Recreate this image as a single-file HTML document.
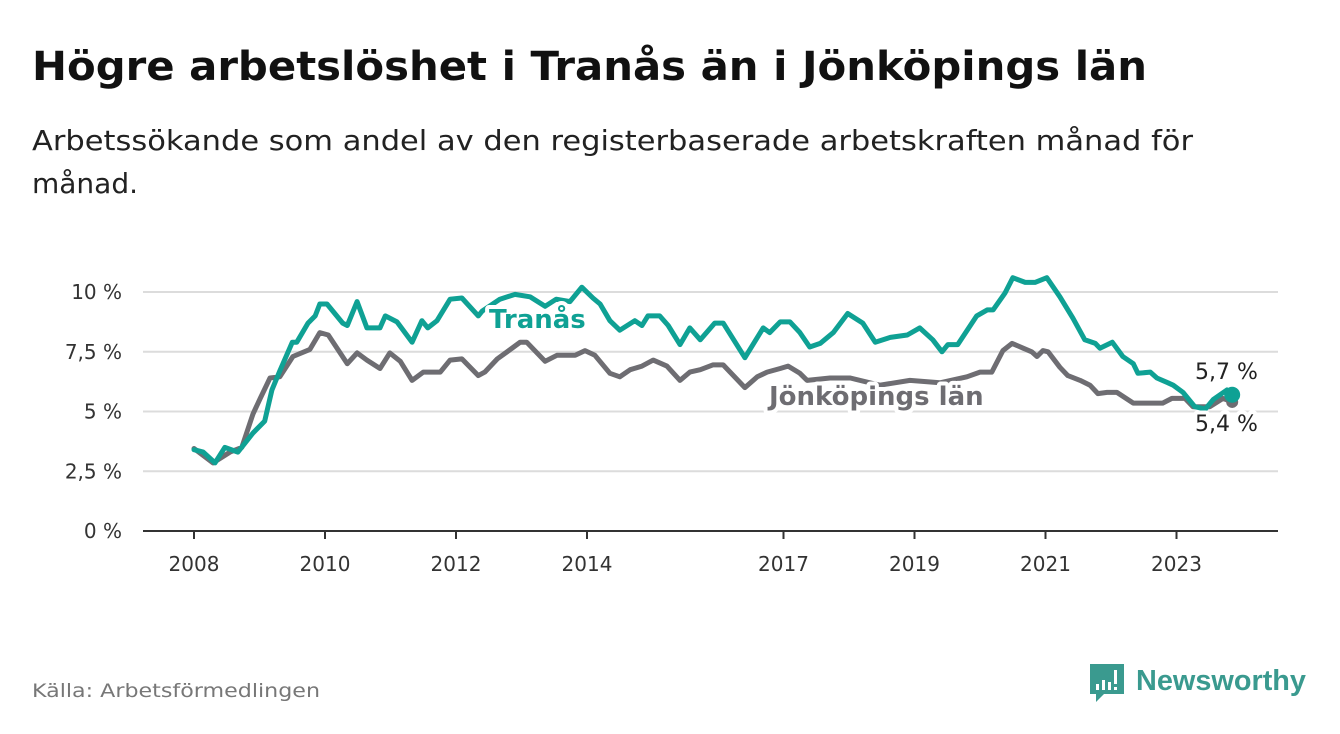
<!DOCTYPE html>
<html><head><meta charset="utf-8">
<style>
body{margin:0;background:#fff;width:1340px;height:734px;overflow:hidden;font-family:"DejaVu Sans","Liberation Sans",sans-serif}
svg{position:absolute;left:0;top:0}
</style></head>
<body>
<svg width="1340" height="734" viewBox="0 0 1340 734">
<text x="32" y="80" font-size="40" font-weight="bold" fill="#111" textLength="1115" lengthAdjust="spacingAndGlyphs">Högre arbetslöshet i Tranås än i Jönköpings län</text>
<text x="32" y="150" font-size="28" fill="#222" textLength="1161" lengthAdjust="spacingAndGlyphs">Arbetssökande som andel av den registerbaserade arbetskraften månad för</text>
<text x="32" y="193" font-size="28" fill="#222">månad.</text>
<g id="grid"></g>
<g id="lines"></g>
<g id="xaxis"></g>
<g id="labels"></g>
<text x="32" y="697" font-size="19" fill="#777" textLength="288" lengthAdjust="spacingAndGlyphs">Källa: Arbetsförmedlingen</text>
<g>
<path d="M1090 664 h34 v30 h-20 l-8 8 v-8 h-6 z" fill="#3a9a8f"/>
<rect x="1096" y="684" width="3" height="6" fill="#fff"/><rect x="1102" y="680" width="3" height="10" fill="#fff"/><rect x="1108" y="682" width="3" height="8" fill="#fff"/><rect x="1114" y="670" width="3" height="14" fill="#fff"/><rect x="1114" y="687" width="3" height="3" fill="#fff"/>
<text x="1136" y="690" font-size="29" font-family="Liberation Sans, sans-serif" font-weight="bold" fill="#3a9a8f" textLength="170" lengthAdjust="spacingAndGlyphs">Newsworthy</text>
</g>
</svg>
<script>
const yTicks=[0,2.5,5,7.5,10];
const yTickLabels=["0 %","2,5 %","5 %","7,5 %","10 %"];
const xTicks=[2008,2010,2012,2014,2017,2019,2021,2023];
const tranasT=[0,0.14,0.32,0.47,0.67,0.90,1.08,1.19,1.31,1.50,1.57,1.74,1.85,1.92,2.03,2.27,2.34,2.49,2.64,2.84,2.92,3.10,3.33,3.48,3.57,3.71,3.91,4.09,4.34,4.40,4.67,4.90,5.13,5.36,5.53,5.74,5.92,6.09,6.20,6.35,6.50,6.73,6.84,6.93,7.11,7.24,7.42,7.57,7.73,7.95,8.08,8.41,8.69,8.79,8.95,9.10,9.25,9.40,9.56,9.76,9.98,10.21,10.40,10.63,10.89,11.08,11.28,11.42,11.51,11.66,11.95,12.11,12.20,12.38,12.50,12.69,12.84,13.02,13.22,13.42,13.60,13.76,13.83,14.02,14.18,14.34,14.41,14.60,14.70,14.87,14.95,15.10,15.28,15.44,15.56,15.77,15.85];
const tranasV=[3.4,3.3,2.85,3.5,3.3,4.1,4.6,5.9,6.7,7.9,7.9,8.7,9.0,9.5,9.5,8.7,8.6,9.6,8.5,8.5,9.0,8.75,7.9,8.8,8.5,8.8,9.7,9.75,9.0,9.2,9.7,9.9,9.8,9.4,9.7,9.6,10.2,9.75,9.5,8.8,8.4,8.8,8.6,9.0,9.0,8.6,7.8,8.5,8.0,8.7,8.7,7.25,8.5,8.3,8.75,8.75,8.3,7.7,7.85,8.3,9.1,8.7,7.9,8.1,8.2,8.5,8.0,7.5,7.8,7.8,9.0,9.25,9.25,9.95,10.6,10.4,10.4,10.6,9.8,8.9,8.0,7.85,7.65,7.9,7.3,7.0,6.6,6.65,6.4,6.2,6.1,5.8,5.2,5.1,5.5,5.9,5.7];
const jkpT=[0,0.29,0.55,0.73,0.90,1.01,1.16,1.31,1.51,1.77,1.92,2.05,2.34,2.49,2.64,2.84,2.99,3.15,3.33,3.50,3.76,3.91,4.09,4.34,4.44,4.63,4.78,4.98,5.08,5.36,5.54,5.82,5.97,6.12,6.35,6.50,6.66,6.84,7.01,7.22,7.42,7.57,7.73,7.92,8.08,8.41,8.60,8.75,8.95,9.07,9.25,9.36,9.71,10.02,10.47,10.93,11.39,11.80,12.00,12.18,12.35,12.49,12.66,12.79,12.87,12.96,13.04,13.22,13.34,13.53,13.68,13.80,13.94,14.09,14.34,14.79,14.93,15.13,15.25,15.51,15.71,15.85];
const jkpV=[3.45,2.85,3.3,3.5,4.9,5.55,6.4,6.45,7.3,7.6,8.3,8.2,7.0,7.45,7.15,6.8,7.45,7.1,6.3,6.65,6.65,7.15,7.2,6.5,6.65,7.2,7.5,7.9,7.9,7.1,7.35,7.35,7.55,7.35,6.6,6.45,6.75,6.9,7.15,6.9,6.3,6.65,6.75,6.95,6.95,6.0,6.45,6.65,6.8,6.9,6.6,6.3,6.4,6.4,6.1,6.3,6.2,6.45,6.65,6.65,7.55,7.85,7.65,7.5,7.3,7.55,7.5,6.85,6.5,6.3,6.1,5.75,5.8,5.8,5.35,5.35,5.55,5.55,5.2,5.2,5.55,5.4];
const endLabels=["5,7 %","5,4 %"];

const NS="http://www.w3.org/2000/svg";
const xS=t=>194+65.5*(t-2008);
const yS=v=>531-23.9*v;
function mk(tag,attrs,parent){const e=document.createElementNS(NS,tag);for(const k in attrs)e.setAttribute(k,attrs[k]);parent.appendChild(e);return e;}
const grid=document.getElementById('grid'),lines=document.getElementById('lines'),xa=document.getElementById('xaxis'),lab=document.getElementById('labels');
yTicks.forEach((v,i)=>{
  if(v>0){const l=mk('line',{x1:143,x2:1278,y1:yS(v),y2:yS(v),stroke:'#dcdcdc','stroke-width':2},grid);
  
  }
  const t=mk('text',{x:122,y:yS(v)+7,'font-size':20,'text-anchor':'end',fill:'#333'},grid);
  t.textContent=yTickLabels[i];
  
  
});
const ax=mk('line',{x1:143,x2:1278,y1:yS(0),y2:yS(0),stroke:'#333','stroke-width':2},xa);


xTicks.forEach(y=>{
  const tk=mk('line',{x1:xS(y),x2:xS(y),y1:531,y2:539,stroke:'#333','stroke-width':2},xa);
  
  
  const t=mk('text',{x:xS(y),y:571,'font-size':20,'text-anchor':'middle',fill:'#333'},xa);
  t.textContent=y;
  
  
});
function series(T,V,color,name,r){
  const d=T.map((t,i)=>(i?'L':'M')+xS(2008+t).toFixed(1)+' '+yS(V[i]).toFixed(1)).join(' ');
  const p=mk('path',{d:d,fill:'none',stroke:color,'stroke-width':5,'stroke-linejoin':'round','stroke-linecap':'round'},lines);
  
  
  const n=T.length-1;
  const c=mk('circle',{cx:xS(2008+T[n]),cy:yS(V[n]),r:r,fill:color},lines);
  
  
}
series(jkpT,jkpV,'#6e6d72','jonkoping-line',6);
series(tranasT,tranasV,'#0fa194','tranas-line',8);
const halo={stroke:'#fff','stroke-width':8,'paint-order':'stroke','stroke-linejoin':'round'};
function label(x,y,txt,color,size,bold,name){
  const a=Object.assign({x:x,y:y,'font-size':size,fill:color},halo);
  if(bold)a['font-weight']='bold';
  const t=mk('text',a,lab);t.textContent=txt;
  
  
}
label(489,328,'Tranås','#0fa194',26,true,'tranas-label');
label(769,405,'Jönköpings län','#6e6d72',26,true,'jonkoping-label');
label(1195,379,endLabels[0],'#222',22,false,'tranas-end-value');
label(1195,431,endLabels[1],'#222',22,false,'jonkoping-end-value');
</script>
</body></html>
